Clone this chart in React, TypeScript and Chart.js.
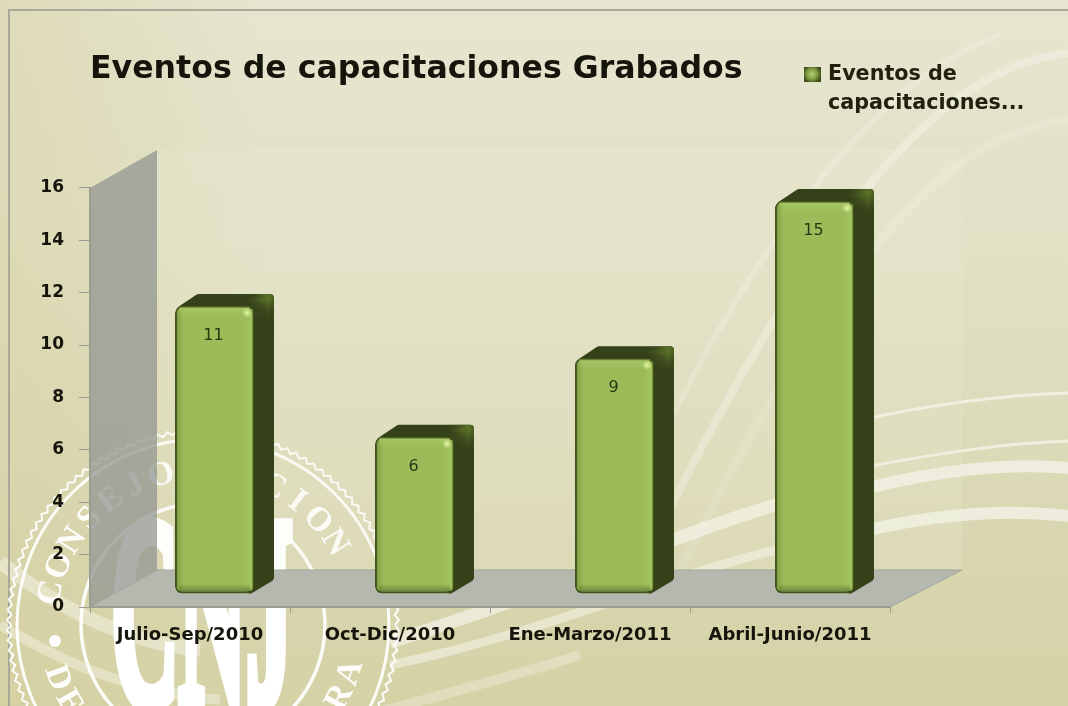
import React, { useEffect, useRef } from "react";
import { Chart, registerables } from "chart.js";

Chart.register(...registerables);

const categories = ["Julio-Sep/2010", "Oct-Dic/2010", "Ene-Marzo/2011", "Abril-Junio/2011"];
const values = [11, 6, 9, 15];
const seriesName = "Eventos de capacitaciones Grabados";
const chartTitle = "Eventos de capacitaciones Grabados";
const legendLines = ["Eventos de", "capacitaciones..."];

const FONT = '"DejaVu Sans", sans-serif';
const DEPTH_X = 67;
const DEPTH_Y = 37;
const BAR_DX = 24.5;
const BAR_DY = -13;
const SIDE_X = 20;
const SIDE_Y = 12;

function curve(ctx: any, pts: number[], width: number, color: string) {
  ctx.beginPath();
  ctx.moveTo(pts[0], pts[1]);
  ctx.bezierCurveTo(pts[2], pts[3], pts[4], pts[5], pts[6], pts[7]);
  ctx.lineWidth = width;
  ctx.strokeStyle = color;
  ctx.lineCap = "butt";
  ctx.stroke();
}

function arcText(ctx: any, text: string, cx: number, cy: number, r: number, startDeg: number, stepDeg: number, bottom: boolean) {
  [...text].forEach((ch, i) => {
    const deg = startDeg + i * stepDeg;
    const a = (deg * Math.PI) / 180;
    ctx.save();
    ctx.translate(cx + r * Math.sin(a), cy - r * Math.cos(a));
    ctx.rotate(bottom ? a + Math.PI : a);
    ctx.fillText(ch, 0, 0);
    ctx.restore();
  });
}

function drawSeal(ctx: any) {
  const cx = 203;
  const cy = 625;
  ctx.save();
  ctx.strokeStyle = "rgba(255,255,255,0.92)";
  ctx.fillStyle = "rgba(255,255,255,0.95)";
  ctx.lineWidth = 2;
  ctx.beginPath();
  for (let i = 0; i <= 240; i++) {
    const a = (i * 1.5 * Math.PI) / 180;
    const r = i % 2 === 0 ? 192 : 196;
    const x = cx + r * Math.cos(a);
    const y = cy + r * Math.sin(a);
    if (i === 0) ctx.moveTo(x, y);
    else ctx.lineTo(x, y);
  }
  ctx.stroke();
  ctx.lineWidth = 3;
  ctx.beginPath();
  ctx.arc(cx, cy, 186, 0, Math.PI * 2);
  ctx.stroke();
  ctx.lineWidth = 3.5;
  ctx.beginPath();
  ctx.arc(cx, cy, 122, 0, Math.PI * 2);
  ctx.stroke();
  ctx.font = `bold 34px "Liberation Serif", serif`;
  ctx.textAlign = "center";
  ctx.textBaseline = "middle";
  arcText(ctx, "CONSEJO", cx, cy, 155, -78, 10.4, false);
  arcText(ctx, "NACION", cx, cy, 155, 6, 10.4, false);
  arcText(ctx, "DE", cx, cy, 155, 250, -10, true);
  arcText(ctx, "RA", cx, cy, 155, 118, -10, true);
  ctx.beginPath();
  ctx.arc(55, 641, 6, 0, Math.PI * 2);
  ctx.fill();
  // big monogram
  ctx.font = `bold 270px "Liberation Serif", serif`;
  ctx.textBaseline = "alphabetic";
  ctx.save();
  ctx.translate(202, 703);
  ctx.scale(0.345, 1);
  ctx.lineWidth = 16;
  ctx.strokeStyle = "#ffffff";
  ctx.fillStyle = "#ffffff";
  ctx.strokeText("CNJ", 0, 0);
  ctx.fillText("CNJ", 0, 0);
  ctx.restore();
  ctx.restore();
}

const scenePlugin = {
  id: "scene",
  beforeDraw(chart: any) {
    const { ctx, width, height, chartArea: a } = chart;
    ctx.save();
    const bg = ctx.createLinearGradient(0, 0, 0, height);
    bg.addColorStop(0, "#e6e5cf");
    bg.addColorStop(0.35, "#e2e1c6");
    bg.addColorStop(0.75, "#d9d7b2");
    bg.addColorStop(1, "#d5d2a6");
    ctx.fillStyle = bg;
    ctx.fillRect(0, 0, width, height);
    const side = ctx.createLinearGradient(0, 0, 260, 0);
    side.addColorStop(0, "rgba(214,208,160,0.45)");
    side.addColorStop(1, "rgba(214,208,160,0)");
    ctx.fillStyle = side;
    ctx.fillRect(0, 0, 260, height);

    // swooshes
    const w2 = "rgba(255,255,255,0.55)";
    curve(ctx, [1070, 53, 960, 62, 830, 175, 640, 570], 8, "rgba(255,255,255,0.28)");
    curve(ctx, [1000, 35, 900, 70, 760, 200, 600, 570], 6, "rgba(255,255,255,0.2)");
    curve(ctx, [1070, 120, 960, 130, 850, 230, 680, 570], 8, "rgba(255,255,255,0.14)");
    curve(ctx, [1070, 393, 1000, 395, 930, 405, 860, 420], 3, w2);
    curve(ctx, [1070, 441, 1000, 443, 930, 455, 860, 468], 3, w2);
    curve(ctx, [1070, 468, 1000, 462, 930, 472, 860, 490], 12, w2);
    curve(ctx, [1070, 516, 1000, 508, 930, 515, 860, 532], 12, w2);
    curve(ctx, [800, 498, 680, 530, 560, 590, 390, 642], 13, "rgba(255,255,255,0.5)");
    curve(ctx, [800, 545, 690, 565, 560, 630, 390, 665], 9, "rgba(255,255,255,0.42)");
    curve(ctx, [0, 562, 50, 600, 110, 640, 200, 650], 14, "rgba(255,255,255,0.38)");
    curve(ctx, [0, 625, 60, 660, 120, 690, 220, 700], 10, "rgba(255,255,255,0.35)");
    curve(ctx, [580, 655, 500, 680, 440, 695, 380, 712], 10, "rgba(255,255,255,0.25)");

    // frame
    ctx.strokeStyle = "#a9a99a";
    ctx.lineWidth = 2;
    ctx.beginPath();
    ctx.moveTo(9, height);
    ctx.lineTo(9, 10);
    ctx.lineTo(width, 10);
    ctx.stroke();

    drawSeal(ctx);

    // back wall
    ctx.fillStyle = "rgba(240,240,222,0.16)";
    ctx.fillRect(a.left + DEPTH_X, a.top - DEPTH_Y - 1, a.width + 5, a.height);

    // side wall
    ctx.beginPath();
    ctx.moveTo(a.left, a.top);
    ctx.lineTo(a.left + DEPTH_X, a.top - DEPTH_Y - 1);
    ctx.lineTo(a.left + DEPTH_X, a.bottom - DEPTH_Y);
    ctx.lineTo(a.left, a.bottom);
    ctx.closePath();
    ctx.fillStyle = "rgba(150,152,148,0.78)";
    ctx.fill();

    // floor
    ctx.beginPath();
    ctx.moveTo(a.left, a.bottom);
    ctx.lineTo(a.right, a.bottom);
    ctx.lineTo(a.right + DEPTH_X + 5, a.bottom - DEPTH_Y);
    ctx.lineTo(a.left + DEPTH_X, a.bottom - DEPTH_Y);
    ctx.closePath();
    ctx.fillStyle = "#b5b8ae";
    ctx.fill();
    ctx.strokeStyle = "#a3a69c";
    ctx.lineWidth = 1;
    ctx.stroke();
    ctx.restore();
  },
  afterDraw(chart: any) {
    const { ctx } = chart;
    ctx.save();
    const x = 804;
    const y = 67;
    const g = ctx.createRadialGradient(x + 8, y + 7, 1, x + 8, y + 7, 9);
    g.addColorStop(0, "#a6c766");
    g.addColorStop(0.55, "#7e9a40");
    g.addColorStop(1, "#3f4f1b");
    ctx.fillStyle = g;
    ctx.fillRect(x, y, 17, 15);
    ctx.fillStyle = "#20220f";
    ctx.font = `bold 20.7px ${FONT}`;
    ctx.textAlign = "left";
    ctx.textBaseline = "middle";
    ctx.fillText(legendLines[0], 828, 75);
    ctx.fillText(legendLines[1], 828, 104);
    ctx.restore();
  },
};

const barsPlugin = {
  id: "bars3d",
  beforeDatasetsDraw(chart: any) {
    const { ctx } = chart;
    ctx.save();
    ctx.translate(BAR_DX, BAR_DY);
    chart.getDatasetMeta(0).data.forEach((b: any) => {
      const l = b.x - b.width / 2;
      const r = b.x + b.width / 2;
      const t = b.y;
      const bot = b.base;
      const inset = 4;
      const shape = () => {
        ctx.beginPath();
        ctx.moveTo(l + inset + 2, t + inset);
        ctx.lineTo(l + SIDE_X + inset, t - SIDE_Y + inset);
        ctx.lineTo(r + SIDE_X - inset, t - SIDE_Y + inset);
        ctx.lineTo(r + SIDE_X - inset, bot - SIDE_Y - inset);
        ctx.lineTo(r - inset, bot - inset);
        ctx.lineTo(r - inset, t + inset);
        ctx.closePath();
      };
      ctx.lineJoin = "round";
      ctx.lineWidth = inset * 2;
      ctx.fillStyle = "#354119";
      ctx.strokeStyle = "#354119";
      shape();
      ctx.fill();
      ctx.stroke();
      ctx.save();
      ctx.beginPath();
      ctx.rect(r - 12, t - SIDE_Y - 1, SIDE_X + 14, SIDE_Y + 14);
      ctx.clip();
      const top = ctx.createRadialGradient(r + SIDE_X - 6, t - SIDE_Y + 3, 1, r + SIDE_X - 6, t - SIDE_Y + 3, 24);
      top.addColorStop(0, "#5a7028");
      top.addColorStop(1, "rgba(53,65,25,0)");
      ctx.fillStyle = top;
      ctx.strokeStyle = top;
      shape();
      ctx.fill();
      ctx.stroke();
      ctx.restore();
    });
  },
  afterDatasetsDraw(chart: any) {
    const { ctx } = chart;
    chart.getDatasetMeta(0).data.forEach((b: any, i: number) => {
      const l = b.x - b.width / 2;
      const r = b.x + b.width / 2;
      const t = b.y;
      const bot = b.base;
      let g = ctx.createLinearGradient(l, 0, l + 10, 0);
      g.addColorStop(0, "rgba(70,90,30,0.55)");
      g.addColorStop(1, "rgba(155,187,89,0)");
      ctx.fillStyle = g;
      ctx.fillRect(l + 1, t + 3, 10, bot - t - 6);
      g = ctx.createLinearGradient(r - 10, 0, r, 0);
      g.addColorStop(0, "rgba(170,205,100,0)");
      g.addColorStop(1, "rgba(175,210,105,0.5)");
      ctx.fillStyle = g;
      ctx.fillRect(r - 10, t + 3, 9, bot - t - 6);
      g = ctx.createLinearGradient(0, t, 0, t + 10);
      g.addColorStop(0, "rgba(180,210,110,0.55)");
      g.addColorStop(1, "rgba(180,210,110,0)");
      ctx.fillStyle = g;
      ctx.fillRect(l + 4, t + 1, b.width - 8, 10);
      g = ctx.createLinearGradient(0, bot - 10, 0, bot);
      g.addColorStop(0, "rgba(60,80,25,0)");
      g.addColorStop(1, "rgba(60,80,25,0.6)");
      ctx.fillStyle = g;
      ctx.fillRect(l + 4, bot - 9, b.width - 8, 8);
      const spot = ctx.createRadialGradient(r - 7, t + 7, 0, r - 7, t + 7, 5);
      spot.addColorStop(0, "rgba(235,250,170,0.9)");
      spot.addColorStop(1, "rgba(235,250,170,0)");
      ctx.fillStyle = spot;
      ctx.fillRect(r - 12, t + 2, 10, 10);
      ctx.fillStyle = "#2b3612";
      ctx.font = `16px ${FONT}`;
      ctx.textAlign = "center";
      ctx.textBaseline = "middle";
      ctx.fillText(String(values[i]), b.x - 1, t + 30);
    });
    ctx.restore();
  },
};

export default function App() {
  const ref = useRef<HTMLCanvasElement>(null);
  useEffect(() => {
    const chart = new Chart(ref.current as HTMLCanvasElement, {
      type: "bar",
      data: {
        labels: categories,
        datasets: [
          {
            label: seriesName,
            data: values,
            backgroundColor: "#9bbc59",
            borderColor: "#43531d",
            borderWidth: 2,
            borderRadius: 7,
            borderSkipped: false,
            barPercentage: 0.395,
            categoryPercentage: 1,
          },
        ],
      },
      options: {
        responsive: false,
        animation: false,
        layout: { padding: { top: 0, left: 0, right: 178, bottom: 0 } },
        plugins: {
          legend: { display: false },
          tooltip: { enabled: false },
          title: {
            display: true,
            text: chartTitle,
            align: "start",
            fullSize: false,
            color: "#15150c",
            font: { family: FONT, size: 31.6, weight: "bold", lineHeight: 1.2 },
            padding: { top: 51, bottom: 99 },
          },
        },
        scales: {
          x: {
            afterFit(s: any) {
              s.height = 99;
            },
            border: { color: "#9b9c92", width: 2 },
            grid: { display: true, drawOnChartArea: false, tickLength: 6, color: "#9b9c92", offset: true },
            ticks: {
              color: "#15150c",
              padding: 12,
              font: { family: FONT, size: 18, weight: "bold" },
              maxRotation: 0,
            },
          },
          y: {
            min: 0,
            max: 16,
            afterFit(s: any) {
              s.width = 90;
            },
            border: { color: "#9b9c92", width: 2 },
            grid: { display: true, drawOnChartArea: false, tickLength: 11, color: "#9b9c92" },
            ticks: {
              stepSize: 2,
              color: "#15150c",
              padding: 15,
              font: { family: FONT, size: 17, weight: "bold" },
            },
          },
        },
      },
      plugins: [scenePlugin, barsPlugin],
    } as any);
    return () => chart.destroy();
  }, []);
  return (
    <div style={{ position: "absolute", left: 0, top: 0, width: 1068, height: 706, overflow: "hidden" }}>
      <canvas ref={ref} width={1068} height={706} style={{ display: "block", filter: "blur(0.5px)" }} />
    </div>
  );
}
